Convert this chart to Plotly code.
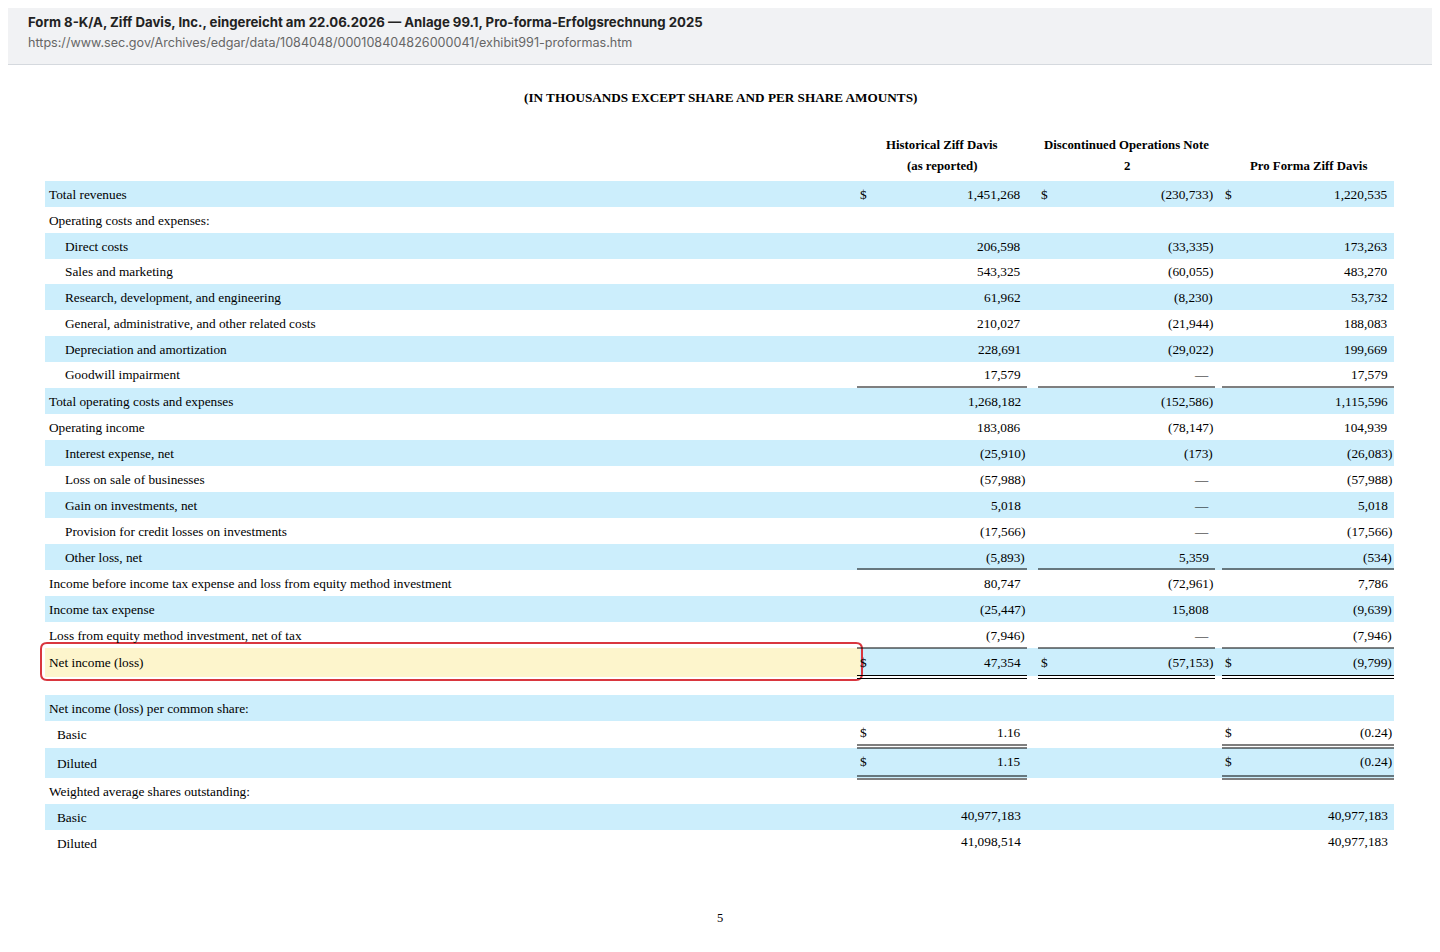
import plotly.graph_objects as go

# rows: (label, indent, col1, col2, col3)
labels = ["Total revenues", "Operating costs and expenses:", "Direct costs", "Sales and marketing",
          "Research, development, and engineering", "General, administrative, and other related costs",
          "Depreciation and amortization", "Goodwill impairment", "Total operating costs and expenses",
          "Operating income", "Interest expense, net", "Loss on sale of businesses", "Gain on investments, net",
          "Provision for credit losses on investments", "Other loss, net",
          "Income before income tax expense and loss from equity method investment", "Income tax expense",
          "Loss from equity method investment, net of tax", "Net income (loss)",
          "Net income (loss) per common share:", "Basic", "Diluted", "Weighted average shares outstanding:",
          "Basic", "Diluted"]
indent = [0, 0, 1, 1, 1, 1, 1, 1, 0, 0, 1, 1, 1, 1, 1, 0, 0, 0, 0, 0, 2, 2, 0, 2, 2]
historical = ["1,451,268", "", "206,598", "543,325", "61,962", "210,027", "228,691", "17,579", "1,268,182",
              "183,086", "(25,910)", "(57,988)", "5,018", "(17,566)", "(5,893)", "80,747", "(25,447)",
              "(7,946)", "47,354", "", "1.16", "1.15", "", "40,977,183", "41,098,514"]
discontinued = ["(230,733)", "", "(33,335)", "(60,055)", "(8,230)", "(21,944)", "(29,022)", "—", "(152,586)",
                "(78,147)", "(173)", "—", "—", "—", "5,359", "(72,961)", "15,808", "—", "(57,153)",
                "", "", "", "", "", ""]
pro_forma = ["1,220,535", "", "173,263", "483,270", "53,732", "188,083", "199,669", "17,579", "1,115,596",
             "104,939", "(26,083)", "(57,988)", "5,018", "(17,566)", "(534)", "7,786", "(9,639)",
             "(7,946)", "(9,799)", "", "(0.24)", "(0.24)", "", "40,977,183", "40,977,183"]
dollar_rows = {0: (1, 1, 1), 18: (1, 1, 1), 20: (1, 0, 1), 21: (1, 0, 1)}
col_heads = [["Historical Ziff Davis", "(as reported)"], ["Discontinued Operations Note", "2"],
             ["", "Pro Forma Ziff Davis"]]

# geometry
row_top = [181, 207, 233, 258, 284, 310, 336, 361, 388, 414, 440, 466, 492, 518, 544, 570, 596, 622, 648,
           695, 721, 748, 778, 804, 830]
row_h = [26] * 18 + [28] + [26, 27, 30, 26, 26, 26]
blue_rows = [0, 2, 4, 6, 8, 10, 12, 14, 16, 18, 19, 21, 23]
cols = [(857, 1027), (1038, 1215), (1222, 1394)]
BLUE = "#cceefc"
SERIF = "Liberation Serif, Times New Roman, serif"
SANS = "Inter, Liberation Sans, Arial, sans-serif"
FS = 13.3

shapes, ann = [], []


def line(x0, x1, y, w=1.2):
    shapes.append(dict(type="line", x0=x0, x1=x1, y0=y, y1=y, line=dict(color="#000", width=w)))


def text(x, y, s, anchor="left", size=FS, font=SERIF, color="#000", bold=False):
    ann.append(dict(x=x, y=y, text=f"<b>{s}</b>" if bold else s, showarrow=False, xanchor=anchor,
                    yanchor="middle", font=dict(family=font, size=size, color=color)))


# header bar
shapes.append(dict(type="rect", x0=-10, x1=1450, y0=-10, y1=64, fillcolor="#f1f2f4", line=dict(width=0), layer="below"))
line(-10, 1450, 64.5, 1)
shapes[-1]["line"]["color"] = "#d5d9de"
text(26, 22, "Form 8-K/A, Ziff Davis, Inc., eingereicht am 22.06.2026 — Anlage 99.1, Pro-forma-Erfolgsrechnung 2025",
     size=13.2, font=SANS, color="#222", bold=True)
text(26, 42, "https://www.sec.gov/Archives/edgar/data/1084048/000108404826000041/exhibit991-proformas.htm",
     size=12.6, font=SANS, color="#666")

text(720, 97, "(IN THOUSANDS EXCEPT SHARE AND PER SHARE AMOUNTS)", anchor="center", size=13.2, bold=True)
for (x0, x1), (h1, h2) in zip(cols, col_heads):
    if h1:
        text((x0 + x1) / 2, 145, h1, anchor="center", size=12.8, bold=True)
    text((x0 + x1) / 2, 166, h2, anchor="center", size=12.8, bold=True)

for i in blue_rows:
    shapes.append(dict(type="rect", x0=45, x1=1394, y0=row_top[i], y1=row_top[i] + row_h[i],
                       fillcolor=BLUE, line=dict(width=0), layer="below"))
# highlighted cell
shapes.append(dict(type="rect", x0=45, x1=860, y0=648, y1=677, fillcolor="#fdf5cc", line=dict(width=0), layer="below"))
shapes.append(dict(type="path", path="M 49 643 L 856 643 Q 862 643 862 649 L 862 674 Q 862 680 856 680 "
                   "L 47 680 Q 41 680 41 674 L 41 649 Q 41 643 47 643 Z",
                   line=dict(color="#d9363e", width=2)))

indent_x = [47, 63, 55]
for i, lab in enumerate(labels):
    yc = row_top[i] + row_h[i] / 2
    text(indent_x[indent[i]], yc, lab)
    dl = dollar_rows.get(i, (0, 0, 0))
    for c, (vals, (x0, x1)) in enumerate(zip([historical, discontinued, pro_forma], cols)):
        v = vals[i]
        if dl[c]:
            text(x0 + 1, yc - (2 if i >= 20 else 0), "$")
        if v:
            text(x1 if v.endswith(")") else x1 - 4, yc - (2 if i >= 20 else 0), v, anchor="right")

# rules
for y in (387, 569, 648):
    for x0, x1 in cols:
        line(x0, x1, y)
for x0, x1 in cols:
    line(x0, x1, 675.5)
    line(x0, x1, 678.5)
for y in (745, 776):
    for x0, x1 in (cols[0], cols[2]):
        line(x0, x1, y)
        line(x0, x1, y + 3)

text(720, 918, "5", anchor="center", size=12.5)

# page has an 8px body margin, so the plot area maps to page pixels 8..1432
fig = go.Figure()
fig.update_layout(width=1424, height=936, margin=dict(l=0, r=0, t=0, b=0), paper_bgcolor="white",
                  plot_bgcolor="white", shapes=shapes, annotations=ann, showlegend=False,
                  xaxis=dict(range=[8, 1432], visible=False, fixedrange=True),
                  yaxis=dict(range=[944, 8], visible=False, fixedrange=True))
fig.write_html("out.html", config={"displayModeBar": False})
